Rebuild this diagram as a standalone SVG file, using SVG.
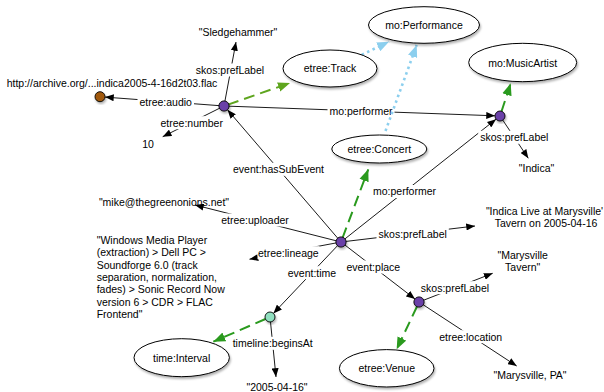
<svg xmlns="http://www.w3.org/2000/svg" width="604" height="392" viewBox="0 0 604 392">
<style>
text{font-family:"Liberation Sans",Arial,sans-serif;font-size:10.5px;fill:#000}
.m{text-anchor:middle}
.ln{stroke:#000;stroke-width:0.9;fill:none;marker-end:url(#ab)}
.gd{stroke:#2a9a1e;stroke-width:2;fill:none;stroke-dasharray:11 6;marker-end:url(#ag)}
.gy{stroke:#5ea51e;stroke-width:2;fill:none;stroke-dasharray:11 6;marker-end:url(#agy)}
.bd{stroke:#8ccfee;stroke-width:2.6;fill:none;stroke-dasharray:2.5 3.5;marker-end:url(#abl)}
.lb{fill:#fff}
.el{fill:#fff;stroke:#000;stroke-width:1;filter:url(#sh)}
.nd{stroke:#000;stroke-width:0.9;filter:url(#sh)}
</style>
<defs>
<filter id="sh" x="-30%" y="-30%" width="160%" height="160%">
<feDropShadow dx="1" dy="2" stdDeviation="1.3" flood-color="#000" flood-opacity="0.3"/>
</filter>
<marker id="ab" viewBox="0 0 10 8" refX="10" refY="4" markerWidth="9" markerHeight="7" markerUnits="userSpaceOnUse" orient="auto"><path d="M0,0 L10,4 L0,8 z" fill="#000"/></marker>
<marker id="ag" viewBox="0 0 10 8" refX="10" refY="4" markerWidth="12" markerHeight="10" markerUnits="userSpaceOnUse" orient="auto"><path d="M0,0 L10,4 L0,8 z" fill="#2a9a1e"/></marker>
<marker id="agy" viewBox="0 0 10 8" refX="10" refY="4" markerWidth="12" markerHeight="10" markerUnits="userSpaceOnUse" orient="auto"><path d="M0,0 L10,4 L0,8 z" fill="#5ea51e"/></marker>
<marker id="abl" viewBox="0 0 10 8" refX="10" refY="4" markerWidth="12" markerHeight="10" markerUnits="userSpaceOnUse" orient="auto"><path d="M0,0 L10,4 L0,8 z" fill="#8ccfee"/></marker>
</defs>
<rect width="604" height="392" fill="#fff"/>

<g id="connectors">
<!-- from track node A (224,106) -->
<line class="ln" x1="224" y1="106" x2="236" y2="42"/>
<line class="ln" x1="224" y1="106" x2="105" y2="97.1"/>
<line class="ln" x1="224" y1="106" x2="162.7" y2="136.7"/>
<line class="ln" x1="224" y1="106" x2="495" y2="115.8"/>
<line class="gy" x1="228" y1="104.6" x2="290" y2="83"/>
<!-- from concert node C (341,242) -->
<line class="ln" x1="341" y1="242" x2="227.5" y2="109.8"/>
<line class="ln" x1="341" y1="242" x2="496" y2="119.2"/>
<line class="ln" x1="341" y1="242" x2="195" y2="205"/>
<line class="ln" x1="341" y1="242" x2="249.5" y2="259.2"/>
<line class="ln" x1="341" y1="242" x2="475" y2="226"/>
<line class="ln" x1="341" y1="242" x2="273.4" y2="313.4"/>
<line class="ln" x1="341" y1="242" x2="415" y2="299"/>
<line class="gd" x1="342.5" y1="238" x2="368.3" y2="169.3"/>
<!-- from artist node M (500,116) -->
<line class="gd" x1="501.5" y1="111.5" x2="510.7" y2="83.3"/>
<line class="ln" x1="500" y1="116" x2="528.3" y2="158.3"/>
<!-- from place node P (419,302) -->
<line class="ln" x1="419" y1="302" x2="492.7" y2="273.3"/>
<line class="ln" x1="419" y1="302" x2="516.7" y2="366"/>
<line class="gd" x1="417" y1="306.5" x2="396.7" y2="349.3"/>
<!-- from time node T (270,317) -->
<line class="gd" x1="265.5" y1="319" x2="213.3" y2="341.7"/>
<line class="ln" x1="270" y1="317" x2="276" y2="377"/>

<!-- labels -->
<rect class="lb" x="193.9" y="63.5" width="72.3" height="13"/>
<text class="m" x="230" y="73.8">skos:prefLabel</text>
<rect class="lb" x="137.5" y="95.2" width="56.5" height="13"/>
<text class="m" x="165.7" y="105.5">etree:audio</text>
<rect class="lb" x="158.8" y="116.2" width="65.8" height="13"/>
<text class="m" x="191.7" y="126.5">etree:number</text>
<rect class="lb" x="327.5" y="104.5" width="67" height="13"/>
<text class="m" x="361" y="114.8">mo:performer</text>
<rect class="lb" x="231" y="162.8" width="95" height="13"/>
<text class="m" x="278.5" y="173.1">event:hasSubEvent</text>
<rect class="lb" x="371" y="185" width="67" height="13"/>
<text class="m" x="404.5" y="195.3">mo:performer</text>
<rect class="lb" x="478.2" y="130.8" width="72.3" height="13"/>
<text class="m" x="514.3" y="141.1">skos:prefLabel</text>
<rect class="lb" x="219.2" y="213.5" width="71.7" height="13"/>
<text class="m" x="255" y="223.8">etree:uploader</text>
<rect class="lb" x="257.5" y="246.2" width="62" height="13"/>
<text class="m" x="288.3" y="256.5">etree:lineage</text>
<rect class="lb" x="376.5" y="227.2" width="72.3" height="13"/>
<text class="m" x="412.7" y="237.5">skos:prefLabel</text>
<rect class="lb" x="285.8" y="266.2" width="52.4" height="13"/>
<text class="m" x="312" y="276.5">event:time</text>
<rect class="lb" x="344.5" y="260.5" width="57.7" height="13"/>
<text class="m" x="373.3" y="270.8">event:place</text>
<rect class="lb" x="418.9" y="281.2" width="72.3" height="13"/>
<text class="m" x="455" y="291.5">skos:prefLabel</text>
<rect class="lb" x="437.2" y="330.2" width="67" height="13"/>
<text class="m" x="470.7" y="340.5">etree:location</text>
<rect class="lb" x="230.7" y="336.8" width="84" height="13"/>
<text class="m" x="272.7" y="347.1">timeline:beginsAt</text>

<!-- subclass dotted -->
<line class="bd" x1="361.7" y1="54.8" x2="389" y2="41.7"/>
<line class="bd" x1="385.5" y1="131" x2="416.7" y2="45"/>
</g>

<g id="n-performance"><ellipse class="el" cx="424" cy="25" rx="55.5" ry="18.3"/><text class="m" x="424" y="28.8">mo:Performance</text></g>
<g id="n-track"><ellipse class="el" cx="330" cy="68.5" rx="47" ry="18.5"/><text class="m" x="330" y="72.2">etree:Track</text></g>
<g id="n-musicartist"><ellipse class="el" cx="522.7" cy="62.5" rx="54" ry="19.2"/><text class="m" x="522.7" y="66.5">mo:MusicArtist</text></g>
<g id="n-concert"><ellipse class="el" cx="379.3" cy="149" rx="47.5" ry="14"/><text class="m" x="379.3" y="152.8">etree:Concert</text></g>
<g id="n-interval"><ellipse class="el" cx="181.7" cy="357.7" rx="47.7" ry="19"/><text class="m" x="181.7" y="361.5">time:Interval</text></g>
<g id="n-venue"><ellipse class="el" cx="386.7" cy="368.3" rx="47.3" ry="18.7"/><text class="m" x="386.7" y="372.1">etree:Venue</text></g>

<g id="n-track-node"><circle class="nd" cx="224" cy="106" r="5.1" fill="#6a40a8"/></g>
<g id="n-audio-node"><circle class="nd" cx="100" cy="96.7" r="5" fill="#a0590f"/></g>
<g id="n-artist-node"><circle class="nd" cx="500" cy="116" r="5" fill="#6a40a8"/></g>
<g id="n-concert-node"><circle class="nd" cx="341" cy="242" r="5.1" fill="#6a40a8"/></g>
<g id="n-place-node"><circle class="nd" cx="419" cy="302" r="5.1" fill="#6a40a8"/></g>
<g id="n-time-node"><circle class="nd" cx="270" cy="317" r="5" fill="#90e0c0"/></g>

<g id="n-literals">
<text class="m" x="238" y="36">"Sledgehammer"</text>
<text class="m" x="112" y="87">http://archive.org/...indica2005-4-16d2t03.flac</text>
<text class="m" x="148" y="148">10</text>
<text class="m" x="536.5" y="172.3">"Indica"</text>
<text class="m" x="164" y="205.5">"mike@thegreenonions.net"</text>
<text class="m" x="544.5" y="214.5">"Indica Live at Marysville'</text>
<text class="m" x="546" y="226.5">Tavern on 2005-04-16</text>
<text class="m" x="522.7" y="258.8">"Marysville</text>
<text class="m" x="522.7" y="270.5">Tavern"</text>
<text x="96.7" y="243.8">"Windows Media Player<tspan x="96.7" dy="12.35">(extraction) &gt; Dell PC &gt;</tspan><tspan x="96.7" dy="12.35">Soundforge 6.0 (track</tspan><tspan x="96.7" dy="12.35">separation, normalization,</tspan><tspan x="96.7" dy="12.35">fades) &gt; Sonic Record Now</tspan><tspan x="96.7" dy="12.35">version 6 &gt; CDR &gt; FLAC</tspan><tspan x="96.7" dy="12.35">Frontend"</tspan></text>
<text class="m" x="530" y="378.8">"Marysville, PA"</text>
<text class="m" x="277" y="390.5">"2005-04-16"</text>
</g>
</svg>
